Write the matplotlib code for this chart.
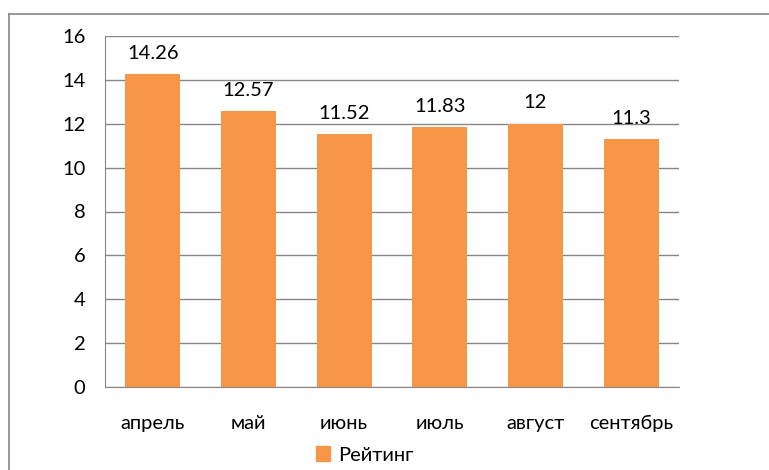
import matplotlib
matplotlib.use("Agg")
import matplotlib.pyplot as plt
from matplotlib.lines import Line2D
from matplotlib.patches import Rectangle

categories = ["апрель", "май", "июнь", "июль", "август", "сентябрь"]
values = [14.26, 12.57, 11.52, 11.83, 12, 11.3]
labels = ["14.26", "12.57", "11.52", "11.83", "12", "11.3"]
series_name = "Рейтинг"
yticks = [0, 2, 4, 6, 8, 10, 12, 14, 16]

plt.rcParams['font.family'] = ['Lato', 'DejaVu Sans']
W, H = 769, 470
FS = 14.5
fig = plt.figure(figsize=(W/100, H/100), dpi=100)
ax = fig.add_axes([105/W, 1-387/H, (679-105)/W, (387-36)/H])

color = "#F79646"
x = range(len(categories))
bars = ax.bar(x, values, width=0.575, color=color, zorder=3)
ax.set_xlim(-0.5, len(categories)-0.5)
ax.set_ylim(0, 16)
ax.set_yticks(yticks)
ax.set_yticklabels([str(t) for t in yticks], fontsize=FS)
ax.set_xticks(list(x))
ax.set_xticklabels(categories, fontsize=FS)
ax.tick_params(axis='both', length=0)
ax.tick_params(axis='y', pad=14)
ax.tick_params(axis='x', pad=20)
ax.grid(axis='y', color='#868686', linewidth=1, zorder=0)
for s in ['top', 'right']:
    ax.spines[s].set_visible(False)
ax.spines['left'].set_color('#868686')
ax.spines['bottom'].set_color('#868686')

for b, lab in zip(bars, labels):
    ax.annotate(lab, (b.get_x()+b.get_width()/2, b.get_height()),
                xytext=(0, 9), textcoords='offset points',
                ha='center', va='bottom', fontsize=FS)

# legend
leg = fig.legend(handles=[Rectangle((0, 0), 1, 1, color=color)], labels=[series_name],
                 loc='center', bbox_to_anchor=(365/W, 1-455/H), frameon=False,
                 fontsize=FS, handlelength=0.7, handleheight=0.7, handletextpad=0.4)

# figure border
fig.add_artist(Line2D([9/W, 1], [1-14/H, 1-14/H], color='#868686', linewidth=1.2, transform=fig.transFigure))
fig.add_artist(Line2D([9/W, 9/W], [1-14/H, 0], color='#868686', linewidth=1.2, transform=fig.transFigure))

fig.savefig("out.png", dpi=100)
